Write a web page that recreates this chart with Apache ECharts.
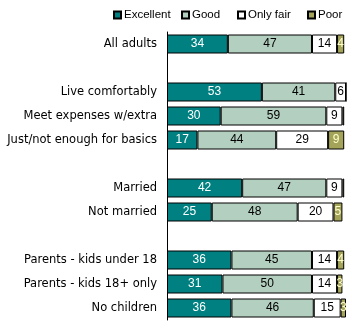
<!DOCTYPE html>
<html><head><meta charset="utf-8">
<script src="https://cdn.jsdelivr.net/npm/echarts@6/dist/echarts.min.js"></script>
<style>html,body{margin:0;padding:0;background:#fff}#c{width:352px;height:331px}</style>
</head><body><div id="c"></div>
<script>
const categories = ['All adults', ' ', 'Live comfortably', 'Meet expenses w/extra', 'Just/not enough for basics', '  ', 'Married', 'Not married', '   ', 'Parents - kids under 18', 'Parents - kids 18+ only', 'No children'];
const seriesNames = ['Excellent', 'Good', 'Only fair', 'Poor'];
const excellent = [34, null, 53, 30, 17, null, 42, 25, null, 36, 31, 36];
const good      = [47, null, 41, 59, 44, null, 47, 48, null, 45, 50, 46];
const onlyFair  = [14, null, 6, 9, 29, null, 9, 20, null, 14, 14, 15];
const poor      = [4, null, 0, 1, 9, null, 1, 5, null, 4, 3, 3];
const colors = ['#008080', '#B3CFBF', '#FFFFFF', '#A3A35A'];
const labelColors = ['#FFFFFF', '#000000', '#000000', '#FFFFCC'];
const legendLefts = [113, 181, 237, 307];
const font = 'DejaVu Sans';
const values = [excellent, good, onlyFair, poor];

const chart = echarts.init(document.getElementById('c'), null, {renderer: 'canvas'});
chart.setOption({
  animation: false,
  legend: seriesNames.map((n, i) => ({
    top: 9, left: legendLefts[i], itemWidth: 7, itemHeight: 7, icon: 'rect', padding: 0,
    textStyle: {fontFamily: 'Liberation Sans', fontSize: 11.5, color: '#000', padding: [0, 0, 0, -2]},
    data: [n]
  })),
  grid: {left: 167, right: 6, top: 32, height: 288, containLabel: false},
  xAxis: {type: 'value', min: 0, max: 100, show: false},
  yAxis: {
    type: 'category', data: categories, inverse: true,
    axisLine: {lineStyle: {color: '#000', width: 1}},
    axisTick: {show: false},
    axisLabel: {fontFamily: font, fontSize: 11.5, color: '#000', margin: 10}
  },
  series: seriesNames.map((n, i) => ({
    name: n, type: 'bar', stack: 'all', barWidth: 19,
    data: values[i],
    itemStyle: {color: colors[i], borderColor: '#000', borderWidth: 1},
    label: {
      show: true, position: 'inside', color: labelColors[i],
      fontFamily: 'Liberation Sans', fontSize: 12,
      formatter: p => (p.value == null || p.value < 2) ? '' : String(p.value)
    }
  }))
});
</script></body></html>
